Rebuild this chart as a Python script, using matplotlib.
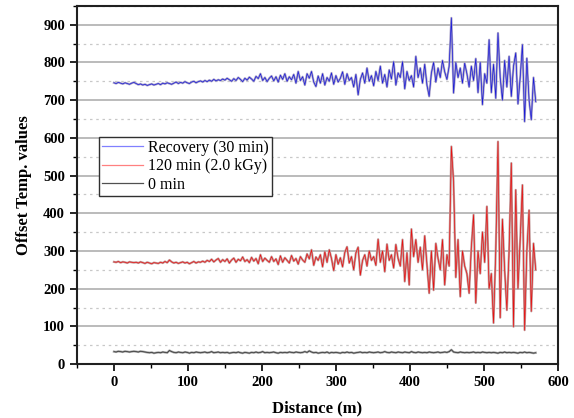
import numpy as np
import matplotlib
matplotlib.use("Agg")
import matplotlib.pyplot as plt
from matplotlib.ticker import MultipleLocator

distance = np.arange(0, 571, 3)

recovery_30 = [
    746, 744, 747, 745, 743, 746, 744, 742, 745, 747,
    744, 741, 743, 740, 742, 739, 741, 743, 740, 742,
    744, 741, 745, 743, 746, 744, 742, 745, 748, 744,
    747, 745, 749, 746, 744, 748, 750, 746, 749, 751,
    748, 752, 749, 753, 750, 755, 751, 754, 752, 756,
    753, 758, 754, 750, 757, 752, 760, 755, 749, 758,
    753, 761, 756, 750, 763, 757, 770, 752, 760, 749,
    758, 764, 751, 762, 748, 766, 755, 770, 750, 762,
    754, 768, 745, 776, 752, 762, 740, 770, 758, 776,
    748, 736, 764, 745, 770, 740, 760, 750, 772, 742,
    765, 748, 758, 775, 742, 770, 752, 760, 735, 768,
    714, 755, 772, 745, 785, 750, 765, 738, 776, 752,
    790, 745, 768, 735, 780, 756, 802, 740, 772, 760,
    802, 730, 776, 752, 765, 735, 816, 760, 785, 745,
    795, 740, 710, 772, 800, 748, 785, 760, 805, 775,
    755, 790, 918, 719, 800, 760, 785, 745, 798, 770,
    735, 790, 752, 810, 720, 800, 688, 770, 745, 860,
    720, 795, 705, 878, 760, 700, 805, 735, 816, 710,
    790, 825, 690, 760, 847, 643, 811, 700, 648, 760,
    696,
]

min_120 = [
    271, 270, 272, 269, 271, 270, 268, 271, 270, 269,
    270, 268, 271, 269, 267, 270, 268, 266, 269, 268,
    267, 270, 268, 272, 269, 276, 271, 268, 270, 267,
    269, 271, 268, 270, 266, 269, 272, 268, 271, 270,
    273, 270, 275, 272, 278, 271, 276, 280, 270, 277,
    272, 279, 268, 276, 281, 270, 278, 274, 284, 272,
    277, 269, 283, 273, 280, 266, 290, 272, 281, 275,
    270, 285, 272, 279, 264, 287, 270, 282, 275, 268,
    288, 273, 280, 265, 285, 276, 270, 292, 279, 303,
    262, 284, 275, 290, 258, 298, 270, 303, 280, 248,
    290, 265, 282, 258, 296, 311, 268, 285, 250, 295,
    310, 236, 275, 290, 260, 300, 275, 285, 262, 331,
    270, 300, 245, 318, 275, 290, 255, 317, 280, 260,
    330, 219, 295, 210, 358, 285, 330, 270, 310, 250,
    340, 265, 188, 300, 196, 320, 280, 250, 330, 210,
    290, 260, 577, 483, 230, 330, 179, 300, 260, 240,
    188, 310, 396, 162, 300, 240, 350, 270, 418, 200,
    240, 109, 300, 590, 123, 384, 250, 143, 300, 533,
    99, 462, 200, 330, 475, 90, 300, 408, 140, 320,
    250,
]

min_0 = [
    33, 32, 34, 33, 32, 34, 33, 32, 33, 34,
    33, 32, 34, 33, 32, 31, 30, 31, 29, 30,
    31, 30, 32, 31, 30, 36, 33, 31, 30, 32,
    31, 30, 32, 31, 29, 31, 30, 32, 31, 30,
    31, 32, 30, 31, 33, 30, 31, 32, 30, 31,
    30, 31, 29, 30, 31, 30, 32, 30, 29, 31,
    30, 29, 31, 30, 32, 30, 31, 33, 30, 31,
    30, 31, 32, 30, 29, 31, 30, 31, 30, 32,
    31, 30, 32, 31, 30, 31, 33, 31, 35, 32,
    30, 31, 29, 30, 31, 30, 32, 29, 31, 30,
    31, 30, 29, 31, 30, 32, 30, 31, 29, 30,
    31, 32, 30, 31, 30, 32, 31, 30, 31, 32,
    30, 31, 33, 31, 30, 32, 31, 30, 32, 31,
    30, 32, 31, 30, 33, 31, 30, 32, 31, 30,
    31, 30, 32, 31, 30, 31, 32, 30, 31, 32,
    31, 33, 38, 32, 31, 30, 32, 31, 30, 31,
    30, 31, 32, 30, 31, 30, 32, 31, 30, 31,
    30, 31, 30, 29, 31, 30, 32, 30, 31, 30,
    31, 30, 29, 31, 30, 32, 30, 31, 30, 29,
    30,
]

labels = ["Recovery (30 min)", "120 min (2.0 kGy)", "0 min"]

plt.rcParams['font.family'] = ['Liberation Serif', 'DejaVu Serif']

fig = plt.figure(figsize=(5.74, 4.18), dpi=100)
ax = fig.add_axes([0.134, 0.129, 0.838, 0.857])

series = [
    (recovery_30, '#a8a2c8', '#1818d8', '#8080ff'),
    (min_120, '#c29a9a', '#e81010', '#ff8080'),
    (min_0, '#a0a0a0', '#303030', '#505050'),
]
handles = []
for (vals, env_c, core_c, leg_c), lab in zip(series, labels):
    ax.plot(distance, vals, color=env_c, lw=1.6, zorder=3)
    ax.plot(distance, vals, color=core_c, lw=0.5, zorder=4)
    h, = ax.plot([], [], color=leg_c, lw=0.9, label=lab)
    handles.append(h)

ax.set_xlim(-50, 600)
ax.set_ylim(0, 950)
ax.xaxis.set_major_locator(MultipleLocator(100))
ax.xaxis.set_minor_locator(MultipleLocator(50))
ax.yaxis.set_major_locator(MultipleLocator(100))
ax.yaxis.set_minor_locator(MultipleLocator(50))

ax.grid(axis='y', which='major', color='#a8a8a8', lw=1.1, zorder=1)
ax.grid(axis='y', which='minor', color='#c8c8c8', lw=0.9, ls=(0, (2, 3)), zorder=1)
ax.set_axisbelow(True)

ax.tick_params(which='major', direction='out', length=5, width=1.2, labelsize=10.5)
ax.tick_params(which='minor', direction='out', length=3, width=1.0)
ax.set_yticks([0, 100, 200, 300, 400, 500, 600, 700, 800, 900])
for lab in ax.get_xticklabels() + ax.get_yticklabels():
    lab.set_fontweight('bold')

for s in ax.spines.values():
    s.set_linewidth(1.5)
    s.set_color('#202020')

ax.set_xlabel("Distance (m)", fontsize=12, fontweight='bold', labelpad=8)
ax.set_ylabel("Offset Temp. values", fontsize=12, fontweight='bold', labelpad=8)

leg = ax.legend(handles=handles, loc='upper left', bbox_to_anchor=(0.045, 0.635),
                fontsize=11.5, frameon=True, fancybox=False, framealpha=1,
                edgecolor='#303030', handlelength=2.6, handletextpad=0.3,
                borderpad=0.2, labelspacing=0.15, borderaxespad=0)
leg.get_frame().set_linewidth(1.0)
leg.set_zorder(6)

fig.savefig("out.png", dpi=100)
